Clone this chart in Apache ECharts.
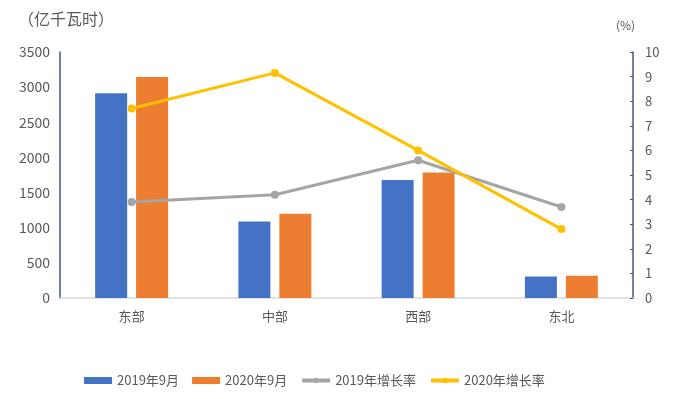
<!DOCTYPE html>
<html>
<head>
<meta charset="utf-8">
<script src="https://cdn.jsdelivr.net/npm/echarts@6/dist/echarts.min.js"></script>
<style>html,body{margin:0;padding:0;background:#fff}#c{width:688px;height:399px}</style>
</head>
<body>
<div id="c"></div>
<script>
const categories = ['东部', '中部', '西部', '东北'];
const sales2019 = [2912, 1090, 1679, 305];
const sales2020 = [3144, 1199, 1787, 315];
const growth2019 = [3.9, 4.2, 5.6, 3.7];
const growth2020 = [7.7, 9.15, 6.0, 2.8];
const leftTicks = { min: 0, max: 3500, interval: 500 };
const rightTicks = { min: 0, max: 10, interval: 1 };

const font = 'Noto Sans CJK SC';
const txt = '#595959';
const chart = echarts.init(document.getElementById('c'));
chart.setOption({
  animation: false,
  textStyle: { fontFamily: font },
  graphic: [
    { type: 'text', left: 18, top: 11, style: { text: '（亿千瓦时）', fontSize: 16, fill: txt, fontFamily: font } },
    { type: 'text', left: 616, top: 19, style: { text: '(%)', fontSize: 12, fill: txt, fontFamily: font } }
  ],
  grid: { left: 60, right: 55, top: 52, bottom: 101, containLabel: false },
  legend: {
    bottom: 7, left: 79,
    itemWidth: 28, itemHeight: 7, itemGap: 13,
    textStyle: { color: txt, fontSize: 13, fontFamily: font },
    data: [
      { name: '2019年9月', icon: 'rect' },
      { name: '2020年9月', icon: 'rect' },
      { name: '2019年增长率', lineStyle: { width: 4 } },
      { name: '2020年增长率', lineStyle: { width: 4 } }
    ]
  },
  xAxis: {
    type: 'category', data: categories,
    axisLine: { lineStyle: { color: '#D9D9D9', width: 1.5 } },
    axisTick: { show: false },
    axisLabel: { color: txt, fontSize: 13, margin: 12 }
  },
  yAxis: [
    {
      type: 'value', min: leftTicks.min, max: leftTicks.max, interval: leftTicks.interval,
      axisLine: { show: true, lineStyle: { color: '#41587E', width: 1.5 } },
      axisTick: { show: false },
      splitLine: { show: false },
      axisLabel: { color: txt, fontSize: 14, margin: 10, formatter: v => String(v) }
    },
    {
      type: 'value', min: rightTicks.min, max: rightTicks.max, interval: rightTicks.interval,
      position: 'right',
      axisLine: { show: true, lineStyle: { color: '#41587E', width: 1.5 } },
      axisTick: { show: true, inside: true, length: 3, lineStyle: { color: '#41587E' } },
      splitLine: { show: false },
      axisLabel: { color: txt, fontSize: 13, margin: 12 }
    }
  ],
  series: [
    { name: '2019年9月', type: 'bar', data: sales2019, barWidth: 32, barGap: '28%', itemStyle: { color: '#4472C4' } },
    { name: '2020年9月', type: 'bar', data: sales2020, barWidth: 32, itemStyle: { color: '#ED7D31' } },
    { name: '2019年增长率', type: 'line', yAxisIndex: 1, data: growth2019, symbol: 'circle', symbolSize: 8,
      lineStyle: { color: '#A5A5A5', width: 3 }, itemStyle: { color: '#A5A5A5' } },
    { name: '2020年增长率', type: 'line', yAxisIndex: 1, data: growth2020, symbol: 'circle', symbolSize: 8,
      lineStyle: { color: '#FFC000', width: 3 }, itemStyle: { color: '#FFC000' } }
  ]
});
</script>
</body>
</html>
